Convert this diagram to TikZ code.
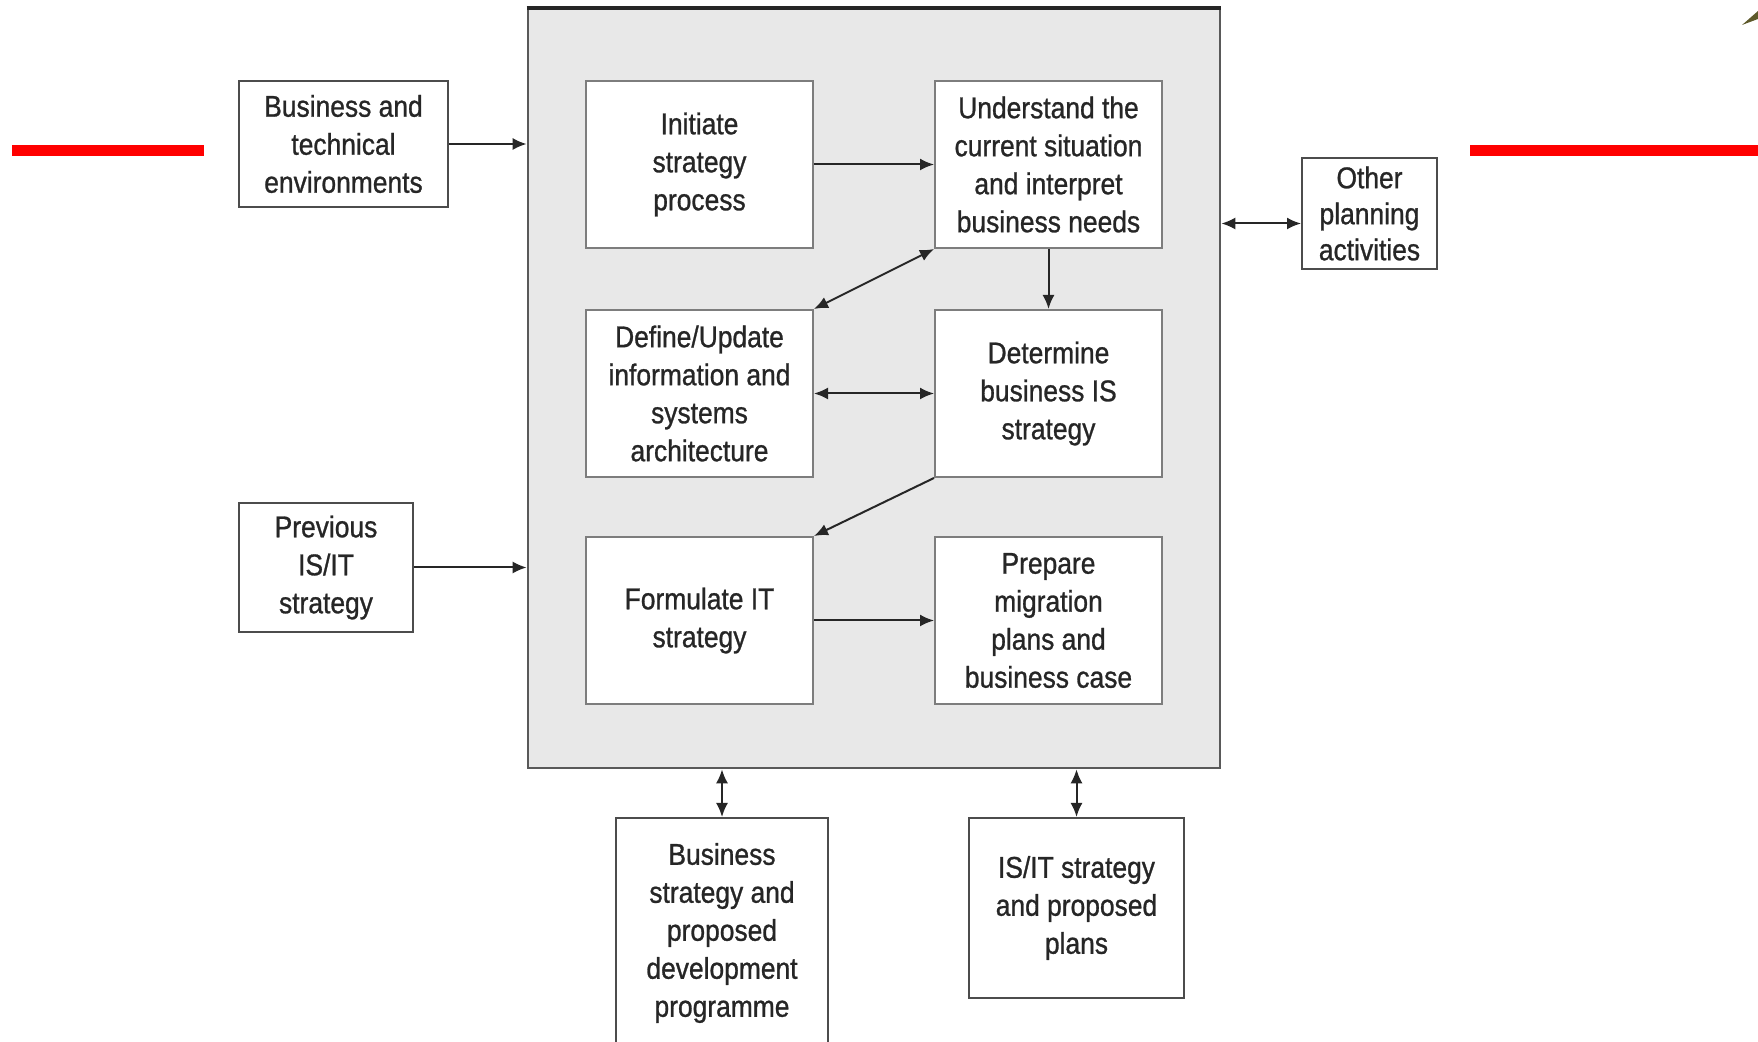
\documentclass[tikz,border=0pt]{standalone}
\usepackage{fontspec}
\setmainfont{Liberation Sans}[FakeStretch=0.88, FakeBold=0.9]
\usetikzlibrary{positioning,arrows.meta}
\definecolor{corefill}{RGB}{232,232,232}
\definecolor{edgegray}{RGB}{125,125,125}
\definecolor{slidered}{RGB}{255,0,0}
\tikzset{
  blk/.style={draw=edgegray, fill=white, line width=1pt, align=center, font=\fontsize{15}{19}\selectfont, text=black!85, minimum width=113.5pt, minimum height=83.5pt, inner sep=2pt},
  ext/.style={draw=black!70, fill=white, line width=1pt, align=center, font=\fontsize{15}{19}\selectfont, text=black!85, inner sep=2pt},
  fl/.style={-{Latex[length=7pt,width=6pt]}, line width=1pt, black!85},
  dl/.style={{Latex[length=7pt,width=6pt]}-{Latex[length=7pt,width=6pt]}, line width=1pt, black!85},
}
\begin{document}
\begin{tikzpicture}[x=0.5pt, y=-0.5pt, node distance=30pt and 60pt]
\useasboundingbox (0,0) rectangle (1758,1042);
% slide decoration
\fill[slidered] (12,145) rectangle (204,156);
\fill[slidered] (1470,145) rectangle (1758,156);
\fill[olive!55!black] (1742,25) -- (1758,11) -- (1758,19) -- cycle;
% strategy process
\node[draw=black!65, fill=corefill, line width=1.3pt, minimum width=346pt, minimum height=379.5pt] (core) at (874,388.5) {};
\draw[line width=2pt, black!85] (core.north west) -- (core.north east);
\node[blk] (init) at (699.5,164.5) {Initiate\\strategy\\process};
\node[blk, right=of init] (under) {Understand the\\current situation\\and interpret\\business needs};
\node[blk, below=of init] (defn) {Define/Update\\information and\\systems\\architecture};
\node[blk, right=of defn] (deter) {Determine\\business IS\\strategy};
\node[blk, below=29pt of defn] (form) {Formulate IT\\strategy};
\node[blk, right=of form] (prep) {Prepare\\migration\\plans and\\business case};
% inputs and outputs
\node[ext, minimum width=104.5pt, minimum height=63pt] (bte) at (343.5,144) {Business and\\technical\\environments};
\node[ext, minimum width=87pt, minimum height=64.5pt] (prev) at (326,567.5) {Previous\\IS/IT\\strategy};
\node[ext, minimum width=67.5pt, minimum height=55.5pt, font=\fontsize{15}{18}\selectfont] (other) at (1369.5,213.5) {Other\\planning\\activities};
\node[ext, minimum width=106pt, minimum height=115pt, anchor=north] (bsp) at (722,817) {Business\\strategy and\\proposed\\development\\programme};
\node[ext, minimum width=107.5pt, minimum height=90pt, anchor=north] (isp) at (1076.5,817) {IS/IT strategy\\and proposed\\plans};
\coordinate (otherin) at ([yshift=-5pt]other.west);
% flows
\draw[fl] (init) -- (under);
\draw[fl] (under) -- (deter);
\draw[dl] (under.south west) -- (defn.north east);
\draw[dl] (defn) -- (deter);
\draw[fl] (deter.south west) -- (form.north east);
\draw[fl] (form) -- (prep);
\draw[fl] (bte.east) -- (bte.east -| core.west);
\draw[fl] (prev.east) -- (prev.east -| core.west);
\draw[dl] (otherin) -- (otherin -| core.east);
\draw[dl] (bsp.north) -- (bsp.north |- core.south);
\draw[dl] (isp.north) -- (isp.north |- core.south);
\end{tikzpicture}
\end{document}
